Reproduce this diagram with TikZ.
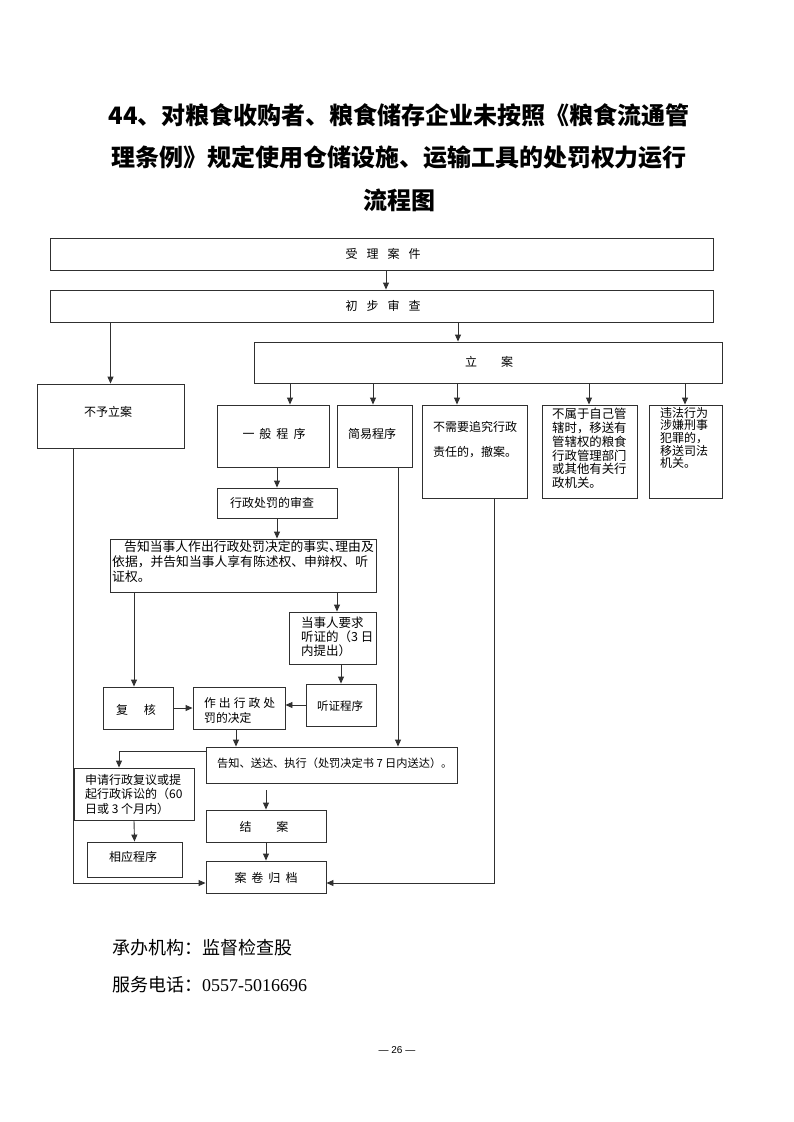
\documentclass[tikz,border=0pt]{standalone}
\usepackage{fontspec}
\setmainfont{Noto Sans CJK SC}
\newfontfamily\serifnum{Liberation Serif}
\newfontfamily\sansnum{Liberation Sans}
\usetikzlibrary{arrows.meta,calc}
\definecolor{lc}{HTML}{303030}
\begin{document}
\begin{tikzpicture}[x=1pt,y=-1pt,
  bx/.style={draw=lc,line width=0.9pt,inner sep=0pt},
  ar/.style={draw=lc,line width=0.9pt,-{Triangle[length=7pt,width=6pt]}},
  tx/.style={inner sep=0pt,font=\fontsize{12}{13.8}\selectfont},
  txl/.style={tx,anchor=north west,align=left},
  ttl/.style={inner sep=0pt,font=\bfseries\fontsize{24}{28}\selectfont}]
\useasboundingbox[fill=white] (0,0) rectangle (793,1122);

% title
\node[ttl] (t1) at (399,115) {44、对粮食收购者、粮食储存企业未按照《粮食流通管};
\node[ttl] (t2) at (399,157) {理条例》规定使用仓储设施、运输工具的处罚权力运行};
\node[ttl] (t3) at (399,200) {流程图};

% boxes
\node[bx,minimum width=663,minimum height=32] (shouli) at (381.5,254) {};
\node[bx,minimum width=663,minimum height=32] (chubu) at (381.5,306) {};
\node[bx,minimum width=468,minimum height=41] (lian) at (488,362.5) {};
\node[bx,minimum width=147,minimum height=64] (buyu) at (110.5,416) {};
\node[bx,minimum width=112,minimum height=62] (yiban) at (273,436) {};
\node[bx,minimum width=75,minimum height=62] (jianyi) at (374.5,436) {};
\node[bx,minimum width=105,minimum height=93] (buxu) at (474.5,451.5) {};
\node[bx,minimum width=95,minimum height=93] (bushu) at (589.5,451.5) {};
\node[bx,minimum width=73,minimum height=93] (weifa) at (685.5,451.5) {};
\node[bx,minimum width=120,minimum height=30] (shencha) at (277,503) {};
\node[bx,minimum width=266,minimum height=53] (gaozhi) at (243,565.5) {};
\node[bx,minimum width=87,minimum height=52] (dangshi) at (332.5,638) {};
\node[bx,minimum width=70,minimum height=42] (fuhe) at (138,708) {};
\node[bx,minimum width=92,minimum height=42] (zuochu) at (239,708) {};
\node[bx,minimum width=70,minimum height=42] (tingzheng) at (341,705) {};
\node[bx,minimum width=251,minimum height=36] (songda) at (331.5,765) {};
\node[bx,minimum width=120,minimum height=52] (shenqing) at (134,794) {};
\node[bx,minimum width=120,minimum height=32] (jiean) at (266,826) {};
\node[bx,minimum width=95,minimum height=35] (xiangying) at (134.5,859.5) {};
\node[bx,minimum width=120,minimum height=32] (anjuan) at (266,877) {};

% texts
\node[tx] (shouli-t) at (383,254) {受\hspace{9pt}理\hspace{9pt}案\hspace{9pt}件};
\node[tx] (chubu-t) at (383,306) {初\hspace{9pt}步\hspace{9pt}审\hspace{9pt}查};
\node[tx] (lian-t) at (489,362) {立\hspace{24pt}案};
\node[tx] (buyu-t) at (108,412) {不予立案};
\node[tx] (yiban-t) at (274,434) {一\hspace{5pt}般\hspace{5pt}程\hspace{5pt}序};
\node[tx] (jianyi-t) at (372,434) {简易程序};
\node[txl] (buxu-t) at (433,421) {不需要追究行政\\[11pt]责任的，撤案。};
\node[txl,font=\fontsize{12.4}{13.8}\selectfont] (bushu-t) at (552,408) {不属于自己管\\辖时，移送有\\管辖权的粮食\\行政管理部门\\或其他有关行\\政机关。};
\node[txl,font=\fontsize{12}{12.6}\selectfont] (weifa-t) at (660,407) {违法行为\\涉嫌刑事\\犯罪的，\\移送司法\\机关。};
\node[tx] (shencha-t) at (272,503) {行政处罚的审查};
\node[txl,font=\fontsize{12.8}{15}\selectfont] (gaozhi-t) at (112,540.5) {\hspace{12pt}告知当事人作出行政处罚决定的事实、\hspace{-6.4pt}理由及\\依据，并告知当事人享有陈述权、申辩权、听\\证权。};
\node[txl,font=\fontsize{12.5}{14}\selectfont] (dangshi-t) at (301,617) {当事人要求\\听证的（3 日\\内提出）};
\node[tx] (fuhe-t) at (136,710) {复\hspace{16pt}核};
\node[txl,font=\fontsize{11.8}{15}\selectfont] (zuochu-t) at (204,697) {作\hspace{3pt}出\hspace{3pt}行\hspace{3pt}政\hspace{3pt}处\\罚的决定};
\node[tx,font=\fontsize{11.5}{13}\selectfont] (tingzheng-t) at (340,706) {听证程序};
\node[tx,anchor=west,font=\fontsize{11.2}{13}\selectfont] (songda-t) at (217,763) {告知、送达、执行（处罚决定书 7 日内送达）。};
\node[txl,font=\fontsize{12}{14.5}\selectfont] (shenqing-t) at (85,774) {申请行政复议或提\\起行政诉讼的（60\\日或 3 个月内）};
\node[tx] (jiean-t) at (264,827) {结\hspace{25pt}案};
\node[tx] (xiangying-t) at (133,857) {相应程序};
\node[tx] (anjuan-t) at (266,878) {案\hspace{5pt}卷\hspace{5pt}归\hspace{5pt}档};

% column / row helpers
\coordinate (x386) at (386,0);
\coordinate (x458) at (458,0);
\coordinate (x290) at (290,0);
\coordinate (x373) at (373,0);
\coordinate (x457) at (457,0);
\coordinate (x589) at (589,0);
\coordinate (x685) at (685,0);
\coordinate (x134) at (134,0);
\coordinate (x337) at (337,0);
\coordinate (x236) at (236,0);
\coordinate (x398) at (398,0);
\coordinate (x73) at (73,0);
\coordinate (x494) at (494,0);
\coordinate (x119) at (119,0);
\coordinate (y751) at (0,751);
\coordinate (y883) at (0,883);

% connectors
\draw[ar] (shouli.south -| x386) -- (chubu.north -| x386);
\draw[ar] (chubu.south -| buyu.north) -- (buyu.north);
\draw[ar] (chubu.south -| x458) -- (lian.north -| x458);
\foreach \c/\b in {x290/yiban,x373/jianyi,x457/buxu,x589/bushu,x685/weifa}
  \draw[ar] (lian.south -| \c) -- (\b.north -| \c);
\draw[ar] (yiban.south -| shencha.north) -- (shencha.north);
\draw[ar] (shencha.south) -- (gaozhi.north -| shencha.south);
\draw[ar] (gaozhi.south -| x134) -- (fuhe.north -| x134);
\draw[ar] (gaozhi.south -| x337) -- (dangshi.north -| x337);
\draw[ar] (dangshi.south -| tingzheng.north) -- (tingzheng.north);
\draw[ar] (fuhe.east) -- (zuochu.west);
\draw[ar] (tingzheng.west) -- (zuochu.east |- tingzheng.west);
\draw[ar] (zuochu.south -| x236) -- (songda.north -| x236);
\draw[ar] (jianyi.south -| x398) -- (songda.north -| x398);
\draw[ar] (songda.west |- y751) -| (shenqing.north -| x119);
\draw[ar] (shenqing.south) -- (xiangying.north);
\draw[ar] ($(songda.south -| jiean.north)+(0,7)$) -- (jiean.north);
\draw[ar] (jiean.south) -- (anjuan.north);
\draw[ar] (buyu.south -| x73) |- (anjuan.west |- y883);
\draw[ar] (buxu.south -| x494) |- (anjuan.east |- y883);

% footer
\node[inner sep=0pt,anchor=west,font=\fontsize{18}{20}\selectfont] (org) at (112,948) {承办机构：监督检查股};
\node[inner sep=0pt,anchor=west,font=\fontsize{18}{20}\selectfont] (tel) at (112,985) {服务电话：{\serifnum 0557-5016696}};
\node[inner sep=0pt,font=\sansnum\fontsize{10}{12}\selectfont] (pg) at (397,1050) {— 26 —};
\end{tikzpicture}
\end{document}
